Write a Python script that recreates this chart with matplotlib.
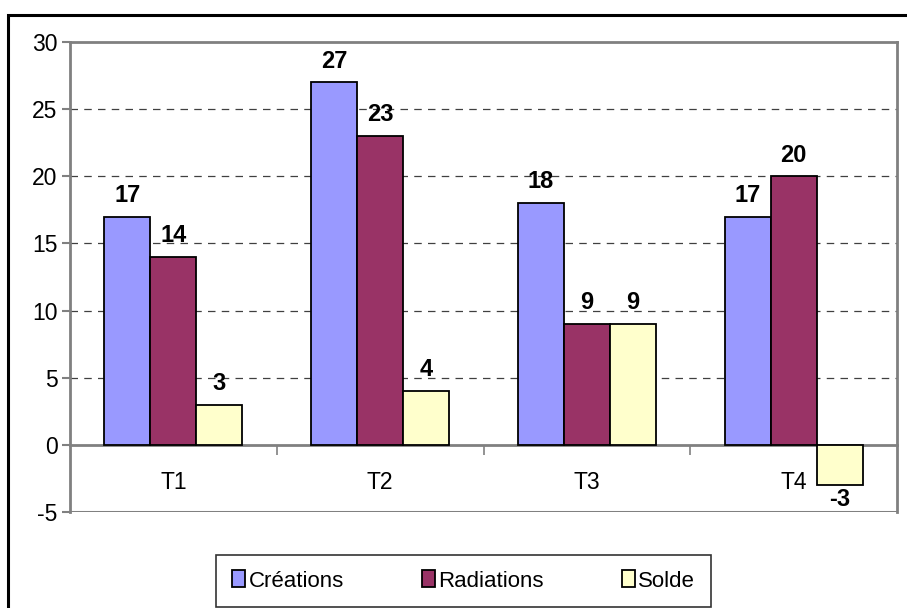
import matplotlib.pyplot as plt
import matplotlib.patches as mpatches
import numpy as np

plt.rcParams['font.family'] = ['Liberation Sans', 'DejaVu Sans']

# data
quarters = ['T1', 'T2', 'T3', 'T4']
creations = [17, 27, 18, 17]
radiations = [14, 23, 9, 20]
solde = [3, 4, 9, -3]

series = [('Créations', creations, '#9999FF'),
          ('Radiations', radiations, '#993366'),
          ('Solde', solde, '#FFFFCC')]

fig = plt.figure(figsize=(9.07, 6.08), dpi=100)
ax = fig.add_axes([70 / 907, 96 / 608, 827 / 907, 470 / 608])

# outer frame of the chart
fig.patches.append(mpatches.Rectangle((8 / 907, -0.02), 1.02, (608 - 15) / 608 + 0.02,
                                      transform=fig.transFigure, fill=False,
                                      edgecolor='black', linewidth=2.2))

x = np.arange(len(quarters))
w = 1 / 4.5
frame_col = '#808080'
fs = 16.5

for i, (name, vals, col) in enumerate(series):
    pos = x + (i - 1) * w
    ax.bar(pos, vals, w, color=col, edgecolor='black', linewidth=1.3,
           label=name, zorder=3)
    for p, v in zip(pos, vals):
        off = 7 if v >= 0 else -2
        ax.annotate(str(v), (p, v), xytext=(0, off), textcoords='offset points',
                    ha='center', va='bottom' if v >= 0 else 'top',
                    fontsize=17, fontweight='bold', zorder=4)

ax.set_xlim(-0.5, 3.5)
ax.set_ylim(-5, 30)
ax.set_yticks(range(-5, 31, 5))
ax.set_yticklabels([str(v) for v in range(-5, 31, 5)])
for yv in range(5, 30, 5):
    ax.axhline(yv, color='#404040', linestyle=(0, (6, 5)), linewidth=0.9, zorder=1)
ax.axhline(-5, color=frame_col, linewidth=2.2, zorder=2)

# x axis sits at zero
ax.spines['bottom'].set_position(('data', 0))
for s in ['bottom', 'left', 'top', 'right']:
    ax.spines[s].set_color(frame_col)
    ax.spines[s].set_linewidth(2)
ax.set_xticks([0.5, 1.5, 2.5])
ax.set_xticklabels([])
ax.tick_params(axis='x', which='major', length=7, width=1.2, color=frame_col, direction='out')
ax.set_xticks(x, minor=True)
ax.set_xticklabels(quarters, minor=True)
ax.tick_params(axis='x', which='minor', length=0, pad=19, labelsize=fs)
ax.tick_params(axis='y', length=6, width=1.5, color=frame_col, labelsize=fs, pad=3)

leg = ax.legend(loc='center', bbox_to_anchor=(463.5 / 907, (608 - 581) / 608),
                bbox_transform=fig.transFigure, ncol=3, frameon=True,
                fontsize=16, handlelength=0.6, handleheight=0.8,
                handletextpad=0.15, columnspacing=3.5, borderpad=0.7,
                borderaxespad=0, fancybox=False)
leg.get_frame().set_edgecolor('black')
leg.get_frame().set_linewidth(1.2)

fig.savefig('out.png', dpi=100)
